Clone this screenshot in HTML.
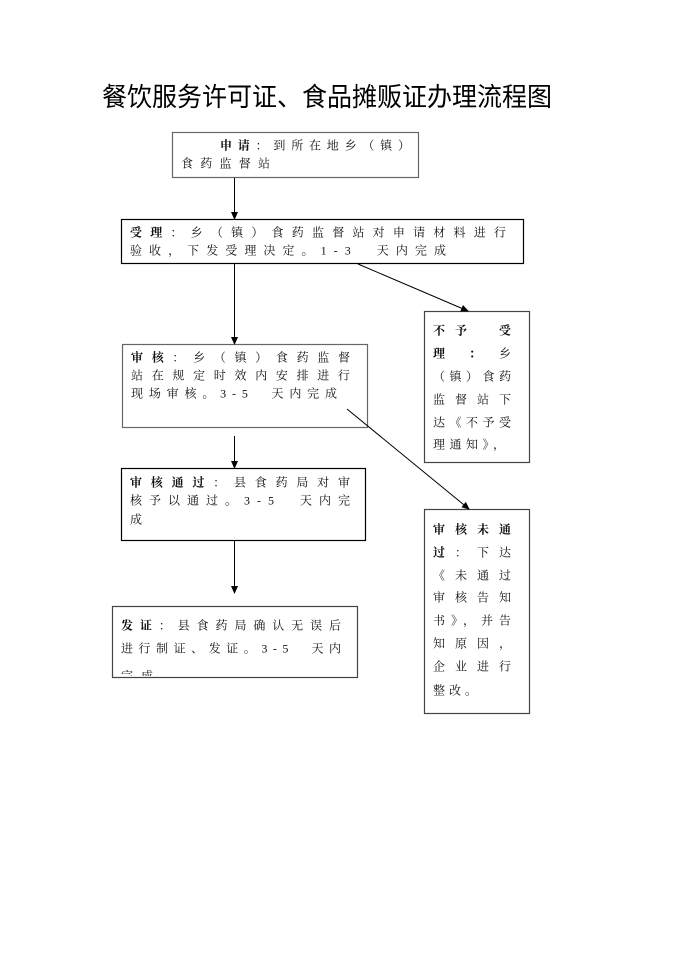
<!DOCTYPE html>
<html><head><meta charset="utf-8">
<style>
html,body{margin:0;padding:0;background:#fff;}
svg{display:block;}
text{font-family:"Liberation Serif","Noto Serif CJK SC","Noto Sans CJK SC",serif;font-size:12px;fill:#111;}
.t{font-family:"Liberation Sans","Noto Sans CJK SC",sans-serif;font-size:26px;fill:#000;}
</style></head><body>
<svg width="673" height="980" viewBox="0 0 673 980" xmlns="http://www.w3.org/2000/svg">
<defs>
<marker id="a" markerWidth="8" markerHeight="8" refX="7" refY="4" orient="auto" markerUnits="userSpaceOnUse">
<path d="M0,0.5 L8,4 L0,7.5 Z" fill="#000"/>
</marker>
<clipPath id="c"><rect x="112" y="606" width="245" height="70"/></clipPath>
</defs>
<text class="t" x="102" y="106" textLength="450" lengthAdjust="spacingAndGlyphs">餐饮服务许可证、食品摊贩证办理流程图</text>

<g fill="none" stroke-width="1.2">
<rect x="172.5" y="132.5" width="246" height="45" stroke="#666"/>
<rect x="121.5" y="219.5" width="402" height="44" stroke="#000"/>
<rect x="122.5" y="344.5" width="245" height="83" stroke="#666"/>
<rect x="424.5" y="311.5" width="105" height="151" stroke="#444"/>
<rect x="121.5" y="468.5" width="244" height="72" stroke="#000"/>
<rect x="112.5" y="606.5" width="245" height="71" stroke="#444"/>
<rect x="424.5" y="509.5" width="105" height="204" stroke="#444"/>
</g>
<g stroke="#000" stroke-width="1" marker-end="url(#a)">
<line x1="234.5" y1="178" x2="234.5" y2="219"/>
<line x1="234.5" y1="264" x2="234.5" y2="344"/>
<line x1="358" y1="264" x2="468" y2="311"/>
<line x1="347" y1="409" x2="469" y2="509"/>
<line x1="234.5" y1="436" x2="234.5" y2="468"/>
<line x1="234.5" y1="541" x2="234.5" y2="593"/>
</g>

<text x="220" y="149.5" textLength="190" lengthAdjust="spacing"><tspan font-weight="bold">申请</tspan>：到所在地乡（镇）</text>
<text x="181" y="167.5" textLength="89" lengthAdjust="spacing">食药监督站</text>

<text x="130" y="236.5" textLength="376" lengthAdjust="spacing"><tspan font-weight="bold">受理</tspan>：乡（镇）食药监督站对申请材料进行</text>
<text x="130" y="254.5" textLength="316" lengthAdjust="spacing">验收，下发受理决定。1-3　天内完成</text>

<text x="131" y="361.5" textLength="219" lengthAdjust="spacing"><tspan font-weight="bold">审核</tspan>：乡（镇）食药监督</text>
<text x="131" y="379.5" textLength="219" lengthAdjust="spacing">站在规定时效内安排进行</text>
<text x="131" y="397.5" textLength="206" lengthAdjust="spacing">现场审核。3-5　天内完成</text>

<text x="433" y="334.5" textLength="78" lengthAdjust="spacing"><tspan font-weight="bold">不予　受</tspan></text>
<text x="433" y="357.5" textLength="78" lengthAdjust="spacing"><tspan font-weight="bold">理　：</tspan>　乡</text>
<text x="433" y="380.5" textLength="78" lengthAdjust="spacing">（镇）食药</text>
<text x="433" y="403.5" textLength="78" lengthAdjust="spacing">监督站下</text>
<text x="433" y="426.5" textLength="78" lengthAdjust="spacing">达《不予受</text>
<text x="433" y="448.5" textLength="72" lengthAdjust="spacing">理通知》，</text>

<text x="130" y="486.5" textLength="220" lengthAdjust="spacing"><tspan font-weight="bold">审核通过</tspan>：县食药局对审</text>
<text x="130" y="504.5" textLength="220" lengthAdjust="spacing">核予以通过。3-5　天内完</text>
<text x="130" y="523.5">成</text>

<g clip-path="url(#c)">
<text x="121" y="629.5" textLength="220" lengthAdjust="spacing"><tspan font-weight="bold">发证</tspan>：县食药局确认无误后</text>
<text x="121" y="652.5" textLength="220" lengthAdjust="spacing">进行制证、发证。3-5　天内</text>
<text x="121" y="680" textLength="32" lengthAdjust="spacing">完成</text>
</g>

<text x="433" y="533.5" textLength="78" lengthAdjust="spacing"><tspan font-weight="bold">审核未通</tspan></text>
<text x="433" y="556.5" textLength="78" lengthAdjust="spacing"><tspan font-weight="bold">过</tspan>：下达</text>
<text x="433" y="579.5" textLength="78" lengthAdjust="spacing">《未通过</text>
<text x="433" y="601.5" textLength="78" lengthAdjust="spacing">审核告知</text>
<text x="433" y="624.5" textLength="78" lengthAdjust="spacing">书》，并告</text>
<text x="433" y="647.5" textLength="78" lengthAdjust="spacing">知原因，</text>
<text x="433" y="670.5" textLength="78" lengthAdjust="spacing">企业进行</text>
<text x="433" y="694.5" textLength="44" lengthAdjust="spacing">整改。</text>
</svg>
</body></html>
